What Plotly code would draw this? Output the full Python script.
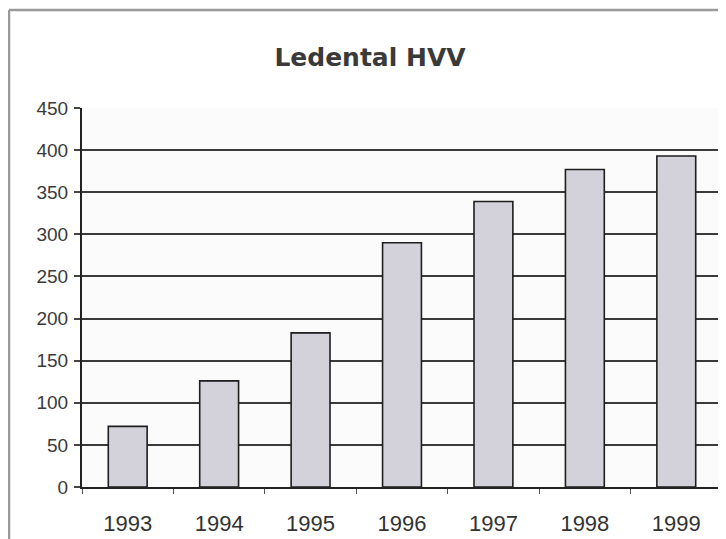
import plotly.graph_objects as go

years = ["1993", "1994", "1995", "1996", "1997", "1998", "1999"]
values = [72, 126, 183, 290, 339, 377, 393]
y_ticks = [0, 50, 100, 150, 200, 250, 300, 350, 400, 450]
title_text = "Ledental HVV"

# the page body adds an 8px margin, so the figure is drawn 8px smaller
OFF = 8
W, H = 726 - OFF, 539 - OFF
L, R, T, B = 82 - OFF, 4, 108 - OFF, 539 - 487
pw, ph = W - L - R, H - T - B

fig = go.Figure(go.Bar(
    x=years, y=values,
    marker=dict(color="#d3d1da", line=dict(color="#1e1e1e", width=1.6)),
))

fig.update_layout(
    width=W, height=H,
    margin=dict(l=L, r=R, t=T, b=B, autoexpand=False),
    paper_bgcolor="white",
    plot_bgcolor="#fbfbfb",
    bargap=0.575,
    showlegend=False,
    title=dict(text="<b>" + title_text + "</b>", x=(370 - OFF) / W, xref="container", xanchor="center",
               y=1 - (57 - OFF) / H, yref="container", yanchor="middle",
               font=dict(family="DejaVu Sans", size=25, color="#3a3a3a")),
    font=dict(family="Liberation Sans, Arial", color="#2a2a2a"),
)

fig.update_xaxes(
    type="category", automargin=False,
    showline=True, linecolor="#222222", linewidth=2,
    ticks="outside", tickson="boundaries", ticklen=5, tickcolor="#555555", tickwidth=1,
    tickfont=dict(size=22, color="#333333"),
    ticklabelstandoff=16,
    showgrid=False,
)
fig.update_yaxes(
    range=[0, 450], tickvals=y_ticks, automargin=False,
    showline=True, linecolor="#222222", linewidth=2, mirror=True,
    ticks="outside", ticklen=6, tickcolor="#444444", tickwidth=1.5,
    tickfont=dict(size=19, color="#3a3a3a"),
    ticklabelstandoff=2,
    showgrid=True, gridcolor="#3a3a3a", gridwidth=1.5,
    zeroline=False,
)

# outer chart-area border (left and top edges visible in the reference)
bx = (9 - OFF - L) / pw
by = (H - B - (10 - OFF)) / ph
fig.add_shape(type="line", xref="paper", yref="paper",
              x0=bx, x1=bx, y0=-B / ph, y1=by,
              line=dict(color="#9a9a9a", width=2.5), layer="above")
fig.add_shape(type="line", xref="paper", yref="paper",
              x0=bx, x1=(W - L) / pw, y0=by, y1=by,
              line=dict(color="#9a9a9a", width=2.5), layer="above")

fig.write_html("out.html")
